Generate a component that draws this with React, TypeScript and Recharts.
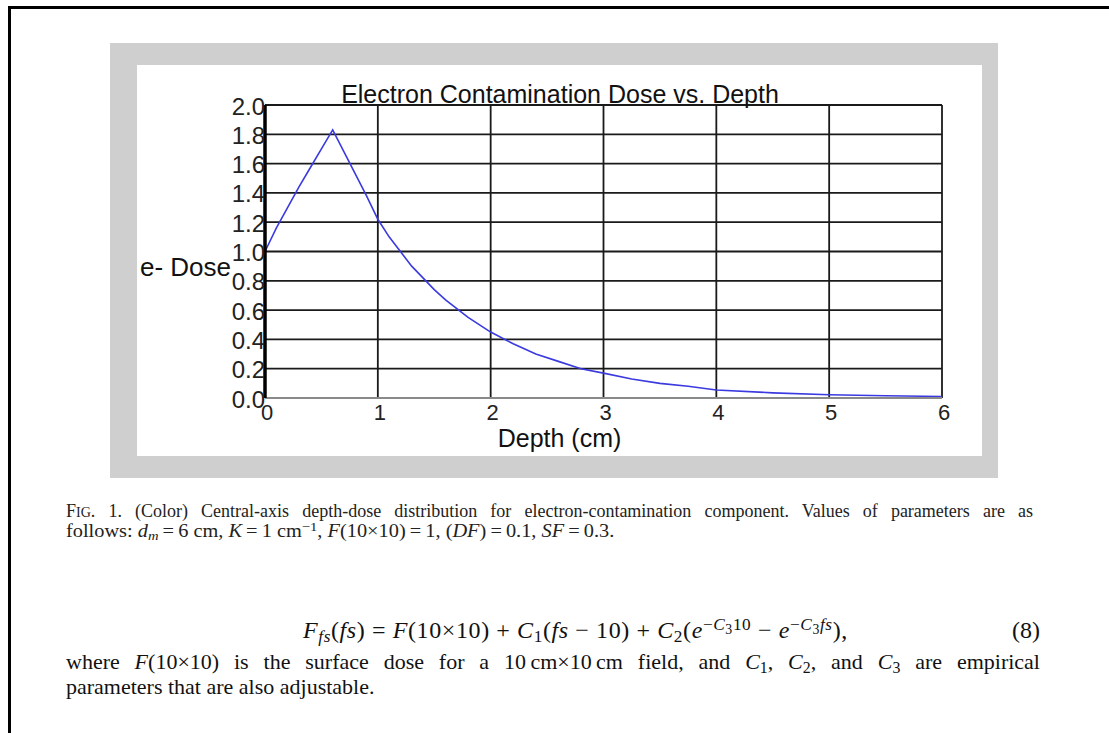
import React from 'react';
import { LineChart, Line, XAxis, YAxis, CartesianGrid, Label } from 'recharts';

// ---- data ----
const depthCm = [0, 0.1, 0.2, 0.3, 0.4, 0.5, 0.6, 0.7, 0.8, 0.9, 1.0, 1.1, 1.2, 1.3, 1.4, 1.5, 1.6, 1.8, 2.0, 2.2, 2.4, 2.6, 2.8, 3.0, 3.25, 3.5, 3.75, 4.0, 4.5, 5.0, 5.5, 6.0];
const eDose = [1.0, 1.16, 1.3, 1.44, 1.57, 1.7, 1.83, 1.68, 1.53, 1.38, 1.22, 1.1, 1.0, 0.9, 0.82, 0.74, 0.67, 0.55, 0.45, 0.37, 0.3, 0.25, 0.2, 0.17, 0.13, 0.1, 0.08, 0.055, 0.035, 0.022, 0.015, 0.01];
const xTicks = [0, 1, 2, 3, 4, 5, 6];
const xTickLabels = ['0', '1', '2', '3', '4', '5', '6'];
const yTicks = [0, 0.2, 0.4, 0.6, 0.8, 1.0, 1.2, 1.4, 1.6, 1.8, 2.0];
const yTickLabels = ['0.0', '0.2', '0.4', '0.6', '0.8', '1.0', '1.2', '1.4', '1.6', '1.8', '2.0'];
const chartTitle = 'Electron Contamination Dose vs. Depth';
const xAxisTitle = 'Depth (cm)';
const yAxisTitle = 'e- Dose';

const data = depthCm.map((d, i) => ({ depth: d, dose: eDose[i] }));

const sans = '"Liberation Sans", Arial, sans-serif';
const serif = '"Liberation Serif", "Times New Roman", serif';

const YTick = (props: any) => {
  const { x, y, payload } = props;
  const idx = yTicks.indexOf(payload.value);
  const label = idx >= 0 ? yTickLabels[idx] : String(payload.value);
  return (
    <text x={x} y={y + 1} textAnchor="end" dominantBaseline="central" fontSize={24} fontFamily={sans} fill="#222">
      {label}
    </text>
  );
};

const XTick = (props: any) => {
  const { x, y, payload } = props;
  const idx = xTicks.indexOf(payload.value);
  const label = idx >= 0 ? xTickLabels[idx] : String(payload.value);
  return (
    <text x={x + 2} y={y + 14} textAnchor="middle" dominantBaseline="central" fontSize={22} fontFamily={sans} fill="#222">
      {label}
    </text>
  );
};

const sub = (t: React.ReactNode) => (
  <span style={{ fontSize: '0.72em', position: 'relative', top: '0.25em', lineHeight: 0 }}>{t}</span>
);
const sup = (t: React.ReactNode) => (
  <span style={{ fontSize: '0.72em', position: 'relative', top: '-0.45em', lineHeight: 0 }}>{t}</span>
);
const s3 = <span style={{ fontSize: '0.8em', position: 'relative', top: '0.25em' }}>3</span>;
const th = '\u2009';

export default function App() {
  return (
    <div style={{ position: 'absolute', left: 0, top: 0, width: 1109, height: 733, background: '#fff', overflow: 'hidden' }}>
      {/* page frame */}
      <div style={{ position: 'absolute', left: 8, top: 6, width: 1101, height: 727, borderTop: '3px solid #000', borderLeft: '3px solid #000', boxSizing: 'border-box' }} />
      {/* gray panel */}
      <div style={{ position: 'absolute', left: 110, top: 43, width: 888, height: 435, background: '#cfcfcf' }} />
      <div style={{ position: 'absolute', left: 137, top: 65, width: 845, height: 391, background: '#fff' }} />
      {/* chart */}
      <div style={{ position: 'absolute', left: 110, top: 43, width: 888, height: 435 }}>
        <LineChart width={888} height={435} data={data} margin={{ top: 62, right: 56, bottom: 50, left: 25 }}>
          <CartesianGrid stroke="#1a1a1a" strokeWidth={1.8} verticalFill={[]} horizontalFill={[]} />
          <XAxis
            dataKey="depth"
            type="number"
            domain={[0, 6]}
            ticks={xTicks}
            interval={0}
            height={30}
            tickSize={0}
            tickMargin={0}
            axisLine={{ stroke: '#8a8a8a', strokeWidth: 2 }}
            tickLine={false}
            tick={<XTick />}
          >
            <Label value={xAxisTitle} position="bottom" offset={0} dx={-44} dy={1} fontSize={25} fontFamily={sans} fill="#111" />
          </XAxis>
          <YAxis
            type="number"
            domain={[0, 2]}
            ticks={yTicks}
            interval={0}
            width={130}
            tickSize={0}
            tickMargin={0}
            axisLine={{ stroke: '#000', strokeWidth: 3.5 }}
            tickLine={false}
            tick={<YTick />}
          >
            <Label value={yAxisTitle} position="insideLeft" offset={5} dy={15} fontSize={26} fontFamily={sans} fill="#111" />
          </YAxis>
          <Line type="linear" dataKey="dose" stroke="#3a3ae0" strokeWidth={1.6} dot={false} isAnimationActive={false} />
        </LineChart>
      </div>
      {/* chart title */}
      <div style={{ position: 'absolute', left: 260, top: 82, width: 600, textAlign: 'center', fontFamily: sans, fontSize: 25, lineHeight: '25px', color: '#111', whiteSpace: 'nowrap' }}>
        {chartTitle}
      </div>
      {/* caption */}
      <div style={{ position: 'absolute', left: 66, top: 502, width: 967, fontFamily: serif, fontSize: 18, lineHeight: '18px', color: '#222', textAlign: 'justify', textAlignLast: 'justify', whiteSpace: 'nowrap' as any }}>
        F<span style={{ fontSize: '0.78em' }}>IG</span>. 1. (Color) Central-axis depth-dose distribution for electron-contamination component. Values of parameters are as
      </div>
      <div style={{ position: 'absolute', left: 66, top: 522, fontFamily: serif, fontSize: 18, lineHeight: '18px', color: '#222', whiteSpace: 'nowrap', transform: 'scaleX(1.13)', transformOrigin: '0 0' }}>
        follows: <i>d</i>{sub(<i>m</i>)}{th}={th}6 cm, <i>K</i>{th}={th}1 cm{sup('−1')}, <i>F</i>(10×10){th}={th}1, (<i>DF</i>){th}={th}0.1, <i>SF</i>{th}={th}0.3.
      </div>
      {/* equation */}
      <div style={{ position: 'absolute', left: 303, top: 618, fontFamily: serif, fontSize: 24, lineHeight: '24px', letterSpacing: '0.6px', color: '#111', whiteSpace: 'nowrap' }}>
        <i>F</i>{sub(<i>fs</i>)}(<i>fs</i>) = <i>F</i>(10×10) + <i>C</i>{sub('1')}(<i>fs</i> − 10) + <i>C</i>{sub('2')}(<i>e</i>{sup(<span>−<i>C</i>{s3}10</span>)} − <i>e</i>{sup(<span>−<i>C</i>{s3}<i>fs</i></span>)}),
      </div>
      <div style={{ position: 'absolute', left: 990, top: 618, width: 50, textAlign: 'right', fontFamily: serif, fontSize: 24, lineHeight: '24px', color: '#111' }}>
        (8)
      </div>
      {/* body text */}
      <div style={{ position: 'absolute', left: 66, top: 651, width: 974, fontFamily: serif, fontSize: 22, lineHeight: '22px', color: '#111', textAlign: 'justify', textAlignLast: 'justify', whiteSpace: 'nowrap' as any }}>
        where <i>F</i>(10×10) is the surface dose for a 10{th}cm×10{th}cm field, and <i>C</i>{sub('1')}, <i>C</i>{sub('2')}, and <i>C</i>{sub('3')} are empirical
      </div>
      <div style={{ position: 'absolute', left: 66, top: 676, fontFamily: serif, fontSize: 22, lineHeight: '22px', color: '#111', whiteSpace: 'nowrap' }}>
        parameters that are also adjustable.
      </div>
    </div>
  );
}
